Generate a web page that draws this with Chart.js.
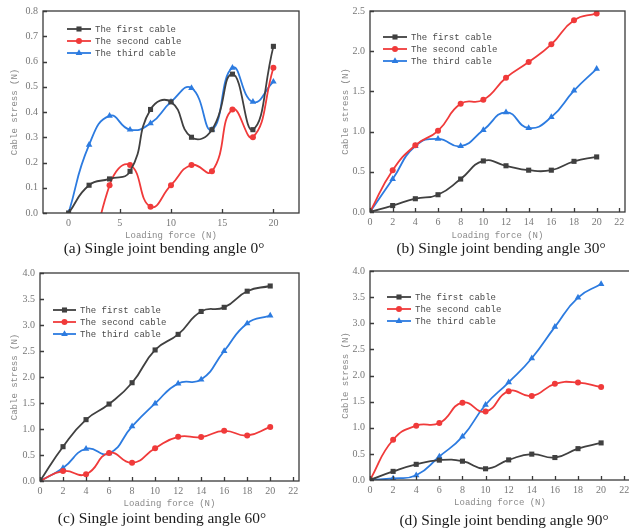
<!DOCTYPE html>
<html>
<head>
<meta charset="utf-8">
<script src="https://cdn.jsdelivr.net/npm/chart.js@4.4.0/dist/chart.umd.min.js"></script>
<style>
html, body { margin: 0; padding: 0; background: #fff; }
body { width: 629px; height: 531px; position: relative; overflow: hidden; }
canvas { position: absolute; }
.caption {
    position: absolute;
    font-family: "Liberation Serif", "Times New Roman", serif;
    font-size: 15.4px;
    color: #1a1a1a;
    white-space: nowrap;
    transform: translate(-50%, -50%);
}
</style>
</head>
<body>
<canvas id="chartA" width="314" height="245" style="left:0;top:0"></canvas>
<canvas id="chartB" width="315" height="245" style="left:314px;top:0"></canvas>
<canvas id="chartC" width="314" height="255" style="left:0;top:260px"></canvas>
<canvas id="chartD" width="320" height="255" style="left:314px;top:260px"></canvas>
<div class="caption" style="left:164px;top:248px">(a) Single joint bending angle 0°</div>
<div class="caption" style="left:501px;top:248px">(b) Single joint bending angle 30°</div>
<div class="caption" style="left:162px;top:518px">(c) Single joint bending angle 60°</div>
<div class="caption" style="left:504px;top:520px">(d) Single joint bending angle 90°</div>
<script>
const loadingForce = [0, 2, 4, 6, 8, 10, 12, 14, 16, 18, 20];
const seriesNames = ['The first cable', 'The second cable', 'The third cable'];

// (a) bending angle 0
const firstCable0 = [0, 0.11, 0.135, 0.165, 0.41, 0.44, 0.30, 0.33, 0.55, 0.33, 0.66];
const secondCable0 = [null, -0.3, 0.11, 0.19, 0.025, 0.11, 0.19, 0.165, 0.41, 0.30, 0.575];
const thirdCable0 = [0, 0.27, 0.385, 0.33, 0.355, 0.44, 0.495, 0.33, 0.575, 0.44, 0.52];

// (b) bending angle 30
const firstCable30 = [0, 0.08, 0.165, 0.215, 0.41, 0.635, 0.575, 0.52, 0.52, 0.63, 0.685];
const secondCable30 = [0, 0.52, 0.83, 1.01, 1.345, 1.395, 1.67, 1.865, 2.085, 2.385, 2.47];
const thirdCable30 = [0, 0.41, 0.82, 0.91, 0.82, 1.02, 1.24, 1.045, 1.18, 1.51, 1.78];

// (c) bending angle 60
const firstCable60 = [0, 0.66, 1.18, 1.48, 1.89, 2.52, 2.82, 3.26, 3.34, 3.65, 3.75];
const secondCable60 = [0, 0.19, 0.13, 0.54, 0.35, 0.63, 0.85, 0.845, 0.965, 0.875, 1.04];
const thirdCable60 = [0, 0.25, 0.62, 0.53, 1.05, 1.49, 1.875, 1.95, 2.5, 3.03, 3.18];

// (d) bending angle 90
const firstCable90 = [0, 0.165, 0.30, 0.38, 0.36, 0.215, 0.385, 0.495, 0.43, 0.60, 0.71];
const secondCable90 = [0, 0.77, 1.04, 1.09, 1.48, 1.31, 1.70, 1.61, 1.84, 1.865, 1.78];
const thirdCable90 = [0, 0.03, 0.09, 0.45, 0.83, 1.44, 1.87, 2.33, 2.93, 3.49, 3.75];

const xTicksA = [0, 5, 10, 15, 20];
const xTicksBCD = [0, 2, 4, 6, 8, 10, 12, 14, 16, 18, 20, 22];
const yTicksA = [0, 0.1, 0.2, 0.3, 0.4, 0.5, 0.6, 0.7, 0.8];
const yTicksB = [0, 0.5, 1.0, 1.5, 2.0, 2.5];
const yTicksCD = [0, 0.5, 1.0, 1.5, 2.0, 2.5, 3.0, 3.5, 4.0];

const lineColors = ['#404040', '#f03a3a', '#2c7be0'];
const pointStyles = ['rect', 'circle', 'triangle'];
const pointRadii = [3.6, 3, 3.8];
const monoFont = '"Liberation Mono", "DejaVu Sans Mono", monospace';

function drawMarker(ctx, style, x, y, r) {
    ctx.beginPath();
    if (style === 'rect') {
        const s = r * Math.SQRT1_2;
        ctx.rect(x - s, y - s, 2 * s, 2 * s);
    } else if (style === 'circle') {
        ctx.arc(x, y, r, 0, Math.PI * 2);
    } else {
        ctx.moveTo(x, y - r);
        ctx.lineTo(x + r * 0.87, y + r * 0.5);
        ctx.lineTo(x - r * 0.87, y + r * 0.5);
        ctx.closePath();
    }
    ctx.fill();
}

// frame, inward ticks and the legend
const framePlugin = {
    id: 'cableFrame',
    afterDraw(chart, args, opts) {
        const ctx = chart.ctx;
        const area = chart.chartArea;
        const xs = chart.scales.x;
        const ys = chart.scales.y;
        ctx.save();
        ctx.strokeStyle = '#3a3a3a';
        ctx.lineWidth = 1.3;
        ctx.strokeRect(area.left, area.top, area.right - area.left, area.bottom - area.top);
        ctx.beginPath();
        xs.ticks.forEach(t => {
            const px = Math.round(xs.getPixelForValue(t.value)) + 0.5;
            ctx.moveTo(px, area.bottom);
            ctx.lineTo(px, area.bottom - 4);
        });
        ys.ticks.forEach(t => {
            const py = Math.round(ys.getPixelForValue(t.value)) + 0.5;
            ctx.moveTo(area.left, py);
            ctx.lineTo(area.left + 4, py);
        });
        ctx.stroke();

        ctx.font = '9px ' + monoFont;
        ctx.textBaseline = 'middle';
        chart.data.datasets.forEach((ds, i) => {
            const y = opts.y0 + i * opts.dy;
            ctx.strokeStyle = ds.borderColor;
            ctx.fillStyle = ds.borderColor;
            ctx.lineWidth = 1.8;
            ctx.beginPath();
            ctx.moveTo(opts.x1, y);
            ctx.lineTo(opts.x2, y);
            ctx.stroke();
            drawMarker(ctx, ds.pointStyle, (opts.x1 + opts.x2) / 2, y, ds.pointRadius);
            ctx.fillStyle = '#4a4a4a';
            ctx.fillText(ds.label, opts.tx, y + 0.5);
        });
        ctx.restore();
    }
};

function makeChart(id, series, p) {
    const datasets = series.map((values, i) => ({
        label: seriesNames[i],
        data: loadingForce.map((x, k) => ({ x: x, y: values[k] })),
        borderColor: lineColors[i],
        backgroundColor: lineColors[i],
        borderWidth: 1.8,
        pointStyle: pointStyles[i],
        pointRadius: pointRadii[i],
        pointBorderWidth: 0,
        tension: 0.5,
        spanGaps: false
    }));
    const tickFont = { family: '"Liberation Serif", serif', size: 10 };
    const titleFont = { family: monoFont, size: 9 };
    return new Chart(document.getElementById(id), {
        type: 'line',
        data: { datasets },
        options: {
            responsive: false,
            animation: false,
            events: [],
            layout: { padding: { left: 0, top: p.padTop, right: p.padRight, bottom: 0 } },
            plugins: {
                legend: { display: false },
                tooltip: { enabled: false },
                cableFrame: p.legend
            },
            scales: {
                x: {
                    type: 'linear',
                    min: p.xMin,
                    max: p.xMax,
                    afterBuildTicks: s => { s.ticks = p.xTicks.map(v => ({ value: v })); },
                    afterFit: s => { s.height = p.axisH; },
                    grid: { display: false, drawTicks: false },
                    border: { display: false },
                    ticks: { padding: 4, font: tickFont, color: '#777', maxRotation: 0, autoSkip: false },
                    title: {
                        display: true, text: 'Loading force (N)', font: titleFont, color: '#8a8a8a',
                        padding: { top: 0, bottom: p.xTitlePad }
                    }
                },
                y: {
                    min: p.yTicks[0],
                    max: p.yTicks[p.yTicks.length - 1],
                    afterBuildTicks: s => { s.ticks = p.yTicks.map(v => ({ value: v })); },
                    afterFit: s => { s.width = p.axisW; },
                    grid: { display: false, drawTicks: false },
                    border: { display: false },
                    ticks: { padding: 5, font: tickFont, color: '#777', callback: v => v.toFixed(1) },
                    title: {
                        display: true, text: 'Cable stress (N)', font: titleFont, color: '#8a8a8a',
                        padding: { top: p.yTitlePad, bottom: 0 }
                    }
                }
            }
        },
        plugins: [framePlugin]
    });
}

makeChart('chartA', [firstCable0, secondCable0, thirdCable0], {
    xMin: -2.5, xMax: 22.5, xTicks: xTicksA, yTicks: yTicksA,
    padTop: 6, padRight: 15, axisW: 43, axisH: 32, xTitlePad: 4, yTitlePad: 9.5,
    legend: { x1: 67, x2: 91, tx: 95, y0: 29, dy: 12 }
});
makeChart('chartB', [firstCable30, secondCable30, thirdCable30], {
    xMin: 0, xMax: 22.5, xTicks: xTicksBCD, yTicks: yTicksB,
    padTop: 5, padRight: 1, axisW: 56, axisH: 33, xTitlePad: 4, yTitlePad: 26.5,
    legend: { x1: 69, x2: 93, tx: 97, y0: 37, dy: 12 }
});
makeChart('chartC', [firstCable60, secondCable60, thirdCable60], {
    xMin: 0, xMax: 22.5, xTicks: xTicksBCD, yTicks: yTicksCD,
    padTop: 13, padRight: 15, axisW: 40, axisH: 34, xTitlePad: 5.5, yTitlePad: 9.5,
    legend: { x1: 53, x2: 76, tx: 80, y0: 50, dy: 12 }
});
makeChart('chartD', [firstCable90, secondCable90, thirdCable90], {
    xMin: 0, xMax: 22.5, xTicks: xTicksBCD, yTicks: yTicksCD,
    padTop: 11, padRight: 4, axisW: 56, axisH: 35, xTitlePad: 6.5, yTitlePad: 26.5,
    legend: { x1: 73, x2: 97, tx: 101, y0: 37, dy: 12 }
});
</script>
</body>
</html>
